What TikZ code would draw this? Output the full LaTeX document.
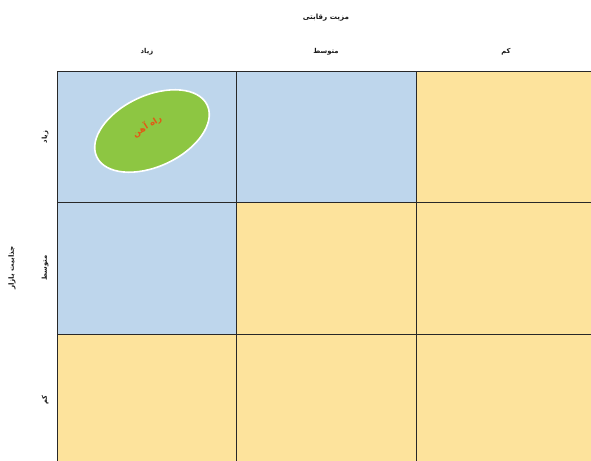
\documentclass[tikz,border=0pt]{standalone}
\usepackage{fontspec}
\usepackage{tikz}
\usetikzlibrary{positioning,shapes.geometric}
\TeXXeTstate=1
\newfontfamily\arabicfont[Script=Arabic]{DejaVu Sans}
\definecolor{cellBlue}{RGB}{190,214,236}
\definecolor{cellYellow}{RGB}{253,227,156}
\definecolor{ovalGreen}{RGB}{141,198,66}
\definecolor{labelOrange}{RGB}{226,88,22}
\definecolor{gridGray}{RGB}{40,40,40}
\tikzset{
  gridCell/.style = {rectangle, draw=gridGray, line width=1pt, fill=#1,
                     minimum width=179.5pt, minimum height=131.5pt,
                     anchor=north west, inner sep=0pt, outer sep=0pt},
  axLabel/.style  = {font=\arabicfont\bfseries\fontsize{6.8}{8}\selectfont,
                     text=black!90, inner sep=1pt},
  axTitle/.style  = {font=\arabicfont\bfseries\fontsize{7.2}{8}\selectfont,
                     text=black!90, inner sep=1pt},
}
\begin{document}
\begin{tikzpicture}[x=1pt,y=-1pt]
  \useasboundingbox[fill=white] (0,0) rectangle (591,460);
  \clip (0,0) rectangle (591,460);
  % grid of cells
  \node[gridCell=cellBlue]   (c11) at (57,71)   {};
  \node[gridCell=cellBlue]   (c12) at (236.5,71)  {};
  \node[gridCell=cellYellow] (c13) at (416,71)  {};
  \node[gridCell=cellBlue]   (c21) at (57,202.5)  {};
  \node[gridCell=cellYellow] (c22) at (236.5,202.5) {};
  \node[gridCell=cellYellow] (c23) at (416,202.5) {};
  \node[gridCell=cellYellow] (c31) at (57,334)  {};
  \node[gridCell=cellYellow] (c32) at (236.5,334) {};
  \node[gridCell=cellYellow] (c33) at (416,334) {};
  % column heads
  \node[axTitle] (adv) at (326,18) {\beginR مزیت رقابتی\endR};
  \node[axLabel] (colHi)  at (147,52) {\beginR زیاد\endR};
  \node[axLabel] (colMid) at (326,52) {\beginR متوسط\endR};
  \node[axLabel] (colLo)  at (506,52) {\beginR کم\endR};
  % row heads
  \node[axTitle,rotate=90] (attr) at (12,268) {\beginR جذابیت بازار\endR};
  \node[axLabel,rotate=90] (rowHi)  at (45,137) {\beginR زیاد\endR};
  \node[axLabel,rotate=90] (rowMid) at (45,268) {\beginR متوسط\endR};
  \node[axLabel,rotate=90] (rowLo)  at (45,400) {\beginR کم\endR};
  % the oval
  \node[ellipse, draw=white, line width=1.6pt, fill=ovalGreen, rotate=25,
        minimum width=122pt, minimum height=71pt] (rail) at (152,131) {};
  \node[rotate=32, text=labelOrange, inner sep=0pt,
        font=\arabicfont\bfseries\fontsize{8.5}{9}\selectfont]
        (railTxt) at (147,126) {\beginR راه آهن\endR};
\end{tikzpicture}
\end{document}
